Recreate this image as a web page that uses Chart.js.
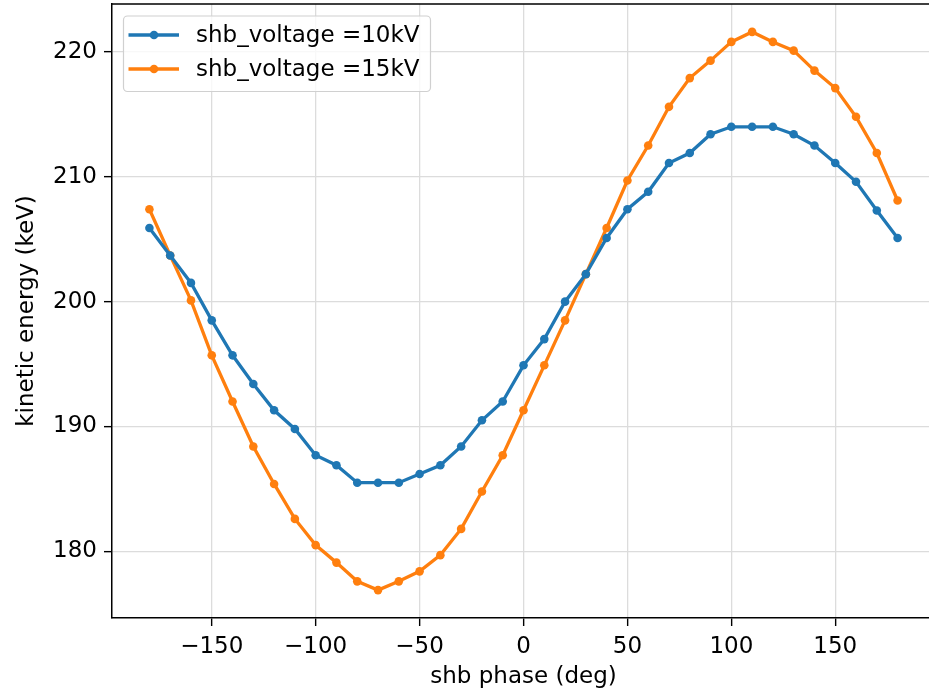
<!DOCTYPE html>
<html>
<head>
<meta charset="utf-8">
<script src="https://cdn.jsdelivr.net/npm/chart.js@4/dist/chart.umd.min.js"></script>
<style>
  html, body { margin: 0; padding: 0; background: #fff; overflow: hidden; width: 929px; height: 691px; }
  #wrap { position: relative; width: 935px; height: 691px; }
</style>
</head>
<body>
<div id="wrap"><canvas id="c" width="935" height="691"></canvas></div>
<script>
// ---- data ----
const phase = [-180, -170, -160, -150, -140, -130, -120, -110, -100, -90, -80, -70, -60, -50, -40, -30, -20, -10,
               0, 10, 20, 30, 40, 50, 60, 70, 80, 90, 100, 110, 120, 130, 140, 150, 160, 170, 180];
const energy10kV = [205.9, 203.7, 201.5, 198.5, 195.7, 193.4, 191.3, 189.8, 187.7, 186.9, 185.5, 185.5, 185.5, 186.2,
                    186.9, 188.4, 190.5, 192.0, 194.9, 197.0, 200.0, 202.2, 205.1, 207.4, 208.8, 211.1, 211.9, 213.4,
                    214.0, 214.0, 214.0, 213.4, 212.5, 211.1, 209.6, 207.3, 205.1];
const energy15kV = [207.4, 203.7, 200.1, 195.7, 192.0, 188.4, 185.4, 182.6, 180.5, 179.1, 177.6, 176.9, 177.6, 178.4,
                    179.7, 181.8, 184.8, 187.7, 191.3, 194.9, 198.5, 202.2, 205.9, 209.7, 212.5, 215.6, 217.9, 219.3,
                    220.8, 221.6, 220.8, 220.1, 218.5, 217.1, 214.8, 211.9, 208.1];
const seriesLabels = ['shb_voltage =10kV', 'shb_voltage =15kV'];
const xTicks = [-150, -100, -50, 0, 50, 100, 150];
const yTicks = [180, 190, 200, 210, 220];
const xTitle = 'shb phase (deg)';
const yTitle = 'kinetic energy (keV)';

// ---- style ----
const FONT = 'DejaVu Sans';
const FS = 23;
const BLUE = '#1f77b4', ORANGE = '#ff7f0e';

// autoscale like matplotlib (5% margins)
function margins(arrs) {
  const all = [].concat(...arrs);
  const lo = Math.min(...all), hi = Math.max(...all), m = (hi - lo) * 0.05;
  return [lo - m, hi + m];
}
const [xMin, xMax] = margins([phase]);
const [yMin, yMax] = margins([energy10kV, energy15kV]);

function fmt(v) { return v < 0 ? '\u2212' + Math.abs(v) : String(v); }

const frame = {
  id: 'frame',
  afterDraw(chart) {
    const { ctx, chartArea: a } = chart;
    ctx.save();
    ctx.strokeStyle = '#000';
    ctx.lineWidth = 1.5;
    ctx.beginPath();
    ctx.moveTo(a.left, a.top); ctx.lineTo(a.right, a.top);
    ctx.moveTo(a.right, a.top); ctx.lineTo(a.right, a.bottom);
    ctx.stroke();

    // legend
    const x0 = a.left + 11.5, y0 = a.top + 12;
    ctx.font = FS + 'px "' + FONT + '"';
    const tw = Math.max(...chart.data.datasets.map(d => ctx.measureText(d.label).width));
    const w = 72.5 + tw + 11, h = 75.5, r = 4;
    ctx.beginPath();
    ctx.moveTo(x0 + r, y0);
    ctx.arcTo(x0 + w, y0, x0 + w, y0 + h, r);
    ctx.arcTo(x0 + w, y0 + h, x0, y0 + h, r);
    ctx.arcTo(x0, y0 + h, x0, y0, r);
    ctx.arcTo(x0, y0, x0 + w, y0, r);
    ctx.closePath();
    ctx.fillStyle = 'rgba(255,255,255,0.8)';
    ctx.fill();
    ctx.strokeStyle = '#d0d0d0';
    ctx.lineWidth = 1.2;
    ctx.stroke();
    chart.data.datasets.forEach((d, i) => {
      const yy = y0 + 19 + i * 34;
      ctx.strokeStyle = d.borderColor;
      ctx.lineWidth = 3.3;
      ctx.beginPath(); ctx.moveTo(x0 + 5, yy); ctx.lineTo(x0 + 55.5, yy); ctx.stroke();
      ctx.fillStyle = d.borderColor;
      ctx.beginPath(); ctx.arc(x0 + 30.5, yy, 4.3, 0, Math.PI * 2); ctx.fill();
      ctx.fillStyle = '#000';
      ctx.textBaseline = 'middle';
      ctx.textAlign = 'left';
      ctx.fillText(d.label, x0 + 72.5, yy + 1);
    });
    ctx.restore();
  }
};

const mk = (label, vals, color) => ({
  label,
  data: phase.map((p, i) => ({ x: p, y: vals[i] })),
  borderColor: color,
  backgroundColor: color,
  borderWidth: 3.3,
  pointRadius: 4.3,
  pointBorderWidth: 0,
  pointBackgroundColor: color,
  tension: 0,
  clip: false
});

new Chart(document.getElementById('c'), {
  type: 'line',
  data: { datasets: [mk(seriesLabels[0], energy10kV, BLUE), mk(seriesLabels[1], energy15kV, ORANGE)] },
  options: {
    responsive: false,
    animation: false,
    layout: { autoPadding: false, padding: { top: 4, left: 0, right: 0, bottom: 0 } },
    plugins: { legend: { display: false }, tooltip: { enabled: false } },
    scales: {
      x: {
        type: 'linear', min: xMin, max: xMax,
        afterBuildTicks: s => { s.ticks = xTicks.map(v => ({ value: v })); },
        afterFit: s => { s.height = 73; s.paddingLeft = 0; s.paddingRight = 0; s.paddingTop = 0; s.paddingBottom = 0; },
        ticks: { callback: v => fmt(v), color: '#000', font: { family: FONT, size: FS }, padding: 7, maxRotation: 0, autoSkip: false },
        grid: { color: '#dcdcdc', lineWidth: 1.3, tickColor: '#000', tickWidth: 1.4, tickLength: 8 },
        border: { color: '#000', width: 1.5 },
        title: { display: true, text: xTitle, color: '#000', font: { family: FONT, size: FS }, padding: { top: 0, bottom: 0 } }
      },
      y: {
        type: 'linear', min: yMin, max: yMax,
        afterBuildTicks: s => { s.ticks = yTicks.map(v => ({ value: v })); },
        afterFit: s => { s.width = 112; s.paddingTop = 0; s.paddingBottom = 0; s.paddingLeft = 0; s.paddingRight = 0; },
        ticks: { callback: v => fmt(v), color: '#000', font: { family: FONT, size: FS }, padding: 7 },
        grid: { color: '#dcdcdc', lineWidth: 1.3, tickColor: '#000', tickWidth: 1.4, tickLength: 8 },
        border: { color: '#000', width: 1.5 },
        title: { display: true, text: yTitle, color: '#000', font: { family: FONT, size: FS }, padding: { top: 13, bottom: 0 } }
      }
    }
  },
  plugins: [frame]
});
</script>
</body>
</html>
